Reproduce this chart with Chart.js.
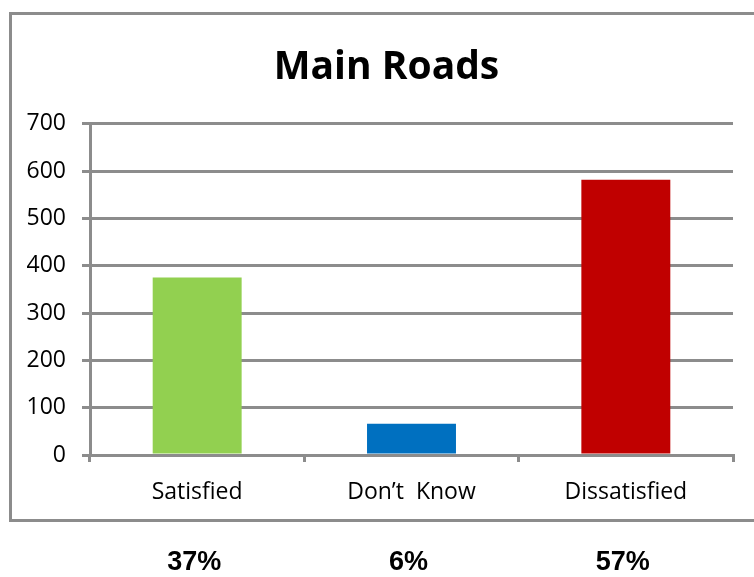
<!DOCTYPE html>
<html>
<head>
<meta charset="utf-8">
<script src="https://cdn.jsdelivr.net/npm/chart.js@4/dist/chart.umd.min.js"></script>
<style>
  html, body { margin: 0; padding: 0; background: #ffffff; }
  #wrap { position: relative; width: 754px; height: 577px; overflow: hidden; }
  #frame {
    position: absolute; left: 9px; top: 12px; width: 800px; height: 504px;
    border: 3px solid #8c8c8c; box-sizing: content-box;
  }
  canvas { position: absolute; left: 0; top: 0; }
</style>
</head>
<body>
<div id="wrap">
  <div id="frame"></div>
  <canvas id="chart" width="754" height="577"></canvas>
</div>
<script>
// Survey responses for main roads
const categories = ['Satisfied', 'Don\u2019t  Know', 'Dissatisfied'];
const responses = [375, 66, 582];
const shares = ['37%', '6%', '57%'];
const barColors = ['#92D050', '#0070C0', '#C00000'];
const yTicks = [0, 100, 200, 300, 400, 500, 600, 700];

const gridGray = '#8c8c8c';

// Writes the share of each answer under its category
const sharePlugin = {
  id: 'shareLabels',
  afterLayout(chart) {
    // centre the title over the framed panel rather than the whole canvas
    if (chart.titleBlock) chart.titleBlock.left = 40;
  },
  afterDraw(chart) {
    const ctx = chart.ctx;
    const x = chart.scales.x;
    ctx.save();
    ctx.font = 'bold 27px "Liberation Sans", Arial, sans-serif';
    ctx.fillStyle = '#000000';
    ctx.textAlign = 'center';
    ctx.textBaseline = 'middle';
    shares.forEach((s, i) => {
      ctx.fillText(s, x.getPixelForValue(i) - 3, 563);
    });
    ctx.restore();
  }
};

function draw() {
  new Chart(document.getElementById('chart'), {
    type: 'bar',
    data: {
      labels: categories,
      datasets: [{
        data: responses,
        backgroundColor: barColors,
        borderWidth: 0,
        barPercentage: 0.415,
        categoryPercentage: 1.0
      }]
    },
    options: {
      responsive: false,
      animation: false,
      layout: { padding: { left: 0, right: 21, top: 0, bottom: 62 } },
      plugins: {
        legend: { display: false },
        tooltip: { enabled: false },
        title: {
          display: true,
          text: 'Main Roads',
          color: '#000000',
          font: { family: '"Open Sans", sans-serif', size: 39, weight: 'bold', lineHeight: 1.2 },
          padding: { top: 44, bottom: 33 }
        }
      },
      scales: {
        x: {
          afterFit(scale) { scale.height = 60; },
          grid: {
            offset: true,
            drawOnChartArea: false,
            drawTicks: true,
            tickLength: 7,
            color: gridGray,
            lineWidth: 3
          },
          border: { display: true, color: gridGray, width: 3 },
          ticks: {
            color: '#000000',
            padding: 17,
            font: { family: '"Open Sans", sans-serif', size: 23 }
          }
        },
        y: {
          min: 0,
          max: 700,
          afterFit(scale) { scale.width = 90; },
          afterBuildTicks(scale) { scale.ticks = yTicks.map(v => ({ value: v })); },
          grid: {
            drawTicks: true,
            tickLength: 8,
            color: gridGray,
            lineWidth: 3
          },
          border: { display: true, color: gridGray, width: 3 },
          ticks: {
            color: '#000000',
            padding: 16,
            font: { family: '"Open Sans", sans-serif', size: 23 }
          }
        }
      }
    },
    plugins: [sharePlugin]
  });
}

Promise.all([
  document.fonts.load('bold 39px "Open Sans"'),
  document.fonts.load('23px "Open Sans"'),
  document.fonts.load('bold 27px "Liberation Sans"')
]).then(draw, draw);
</script>
</body>
</html>
